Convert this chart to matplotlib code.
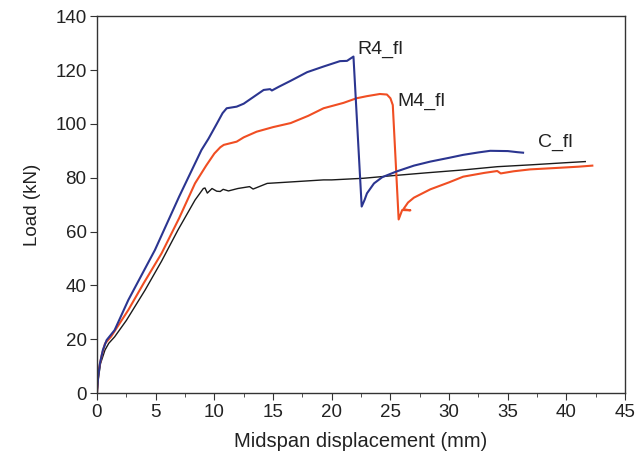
import matplotlib.pyplot as plt
from matplotlib.ticker import MultipleLocator

plt.rcParams['font.family'] = ['Liberation Sans', 'DejaVu Sans']

# C_fl (control beam)
c_x = [0, 0.1, 0.3, 0.68, 1.0, 1.5, 2.5, 4.1, 5.5, 6.9, 8.35, 9.06, 9.2, 9.4, 9.8, 10.2, 10.5,
       10.75, 11.2, 12, 13, 13.3, 14.5, 16, 19.3, 20, 22.7, 25, 28, 31.2, 34.1, 37, 40, 41.6]
c_y = [0, 5, 11, 16, 18.5, 20.9, 27, 38.3, 49, 60.6, 71.7, 76, 76.2, 74.3, 76, 75, 74.9,
       75.7, 75.1, 76, 76.7, 75.8, 77.9, 78.3, 79.2, 79.2, 79.8, 80.7, 81.8, 82.9, 84.1, 84.8,
       85.6, 86]

# R4_fl
r_x = [0, 0.1, 0.25, 0.5, 0.82, 1.5, 2.67, 4.94, 7, 8.9, 9.5, 10.2, 10.7, 11.05, 11.9, 12.5,
       13.5, 14.2, 14.75, 14.9, 15.5, 16.5, 17.9, 19.3, 20.7, 21.3, 21.85, 22.55, 22.8, 23,
       23.6, 24.3, 25.5, 27, 28.4, 30, 31.2, 32.5, 33.5, 35, 35.8, 36.3]
r_y = [0, 6, 11, 16, 19.7, 23.4, 34.6, 53.2, 73, 90.3, 94.5, 100, 104, 105.8, 106.4, 107.5,
       110.5, 112.6, 112.9, 112.4, 113.8, 116, 119.2, 121.3, 123.3, 123.4, 125, 69.3, 71.8, 74.2,
       77.9, 80.2, 82.3, 84.5, 86, 87.4, 88.5, 89.4, 90, 89.9, 89.5, 89.3]

# M4_fl
m_x = [0, 0.14, 0.4, 0.68, 1.2, 2.67, 4, 5.5, 7, 8.35, 9.3, 10, 10.5, 10.8, 11.9, 12.5, 13.6,
       15, 16.5, 18, 19.3, 21, 22.1, 23, 24.1, 24.7, 25.0, 25.2, 25.7, 26.0, 26.7, 26.1, 26.5,
       27, 28.4, 30, 31.2, 33, 34.1, 34.4, 35.5, 36.9, 39, 41, 42.2]
m_y = [0, 8.5, 14, 18.4, 21, 30.9, 41, 51.9, 65, 77.9, 84.5, 89, 91.3, 92.2, 93.4, 95, 97.1,
       98.8, 100.3, 103, 105.8, 107.8, 109.5, 110.3, 111.1, 110.9, 109.5, 107, 64.5, 68.0, 67.9,
       68.3, 70.8, 72.6, 75.7, 78.3, 80.4, 81.8, 82.5, 81.6, 82.4, 83.1, 83.6, 84.1, 84.5]

fig = plt.figure(figsize=(6.36, 4.62), dpi=100)
ax = fig.add_axes([0.1525, 0.149, 0.8305, 0.816])

ax.plot(c_x, c_y, color='#1a1a1a', lw=1.0)
ax.plot(m_x, m_y, color='#f04e23', lw=1.5)
ax.plot(r_x, r_y, color='#2b3590', lw=1.5)

ax.text(22.2, 127.5, 'R4_fl', fontsize=14, va='center', color='#222222')
ax.text(25.6, 108.5, 'M4_fl', fontsize=14, va='center', color='#222222')
ax.text(37.6, 93, 'C_fl', fontsize=14, va='center', color='#222222')

ax.set_xlim(0, 45)
ax.set_ylim(0, 140)
ax.xaxis.set_major_locator(MultipleLocator(5))
ax.xaxis.set_minor_locator(MultipleLocator(2.5))
ax.yaxis.set_major_locator(MultipleLocator(20))
ax.tick_params(axis='both', which='major', direction='out', length=5, labelsize=13.5,
               color='#333333', labelcolor='#222222', pad=2.5)
ax.tick_params(axis='x', which='minor', direction='out', length=3, color='#333333')
for s in ax.spines.values():
    s.set_color('#333333')
    s.set_linewidth(1.0)

ax.set_xlabel('Midspan displacement (mm)', fontsize=14.5, color='#222222', labelpad=8)
ax.set_ylabel('Load (kN)', fontsize=13.5, color='#222222', labelpad=10)

fig.savefig('out.png', dpi=100)
